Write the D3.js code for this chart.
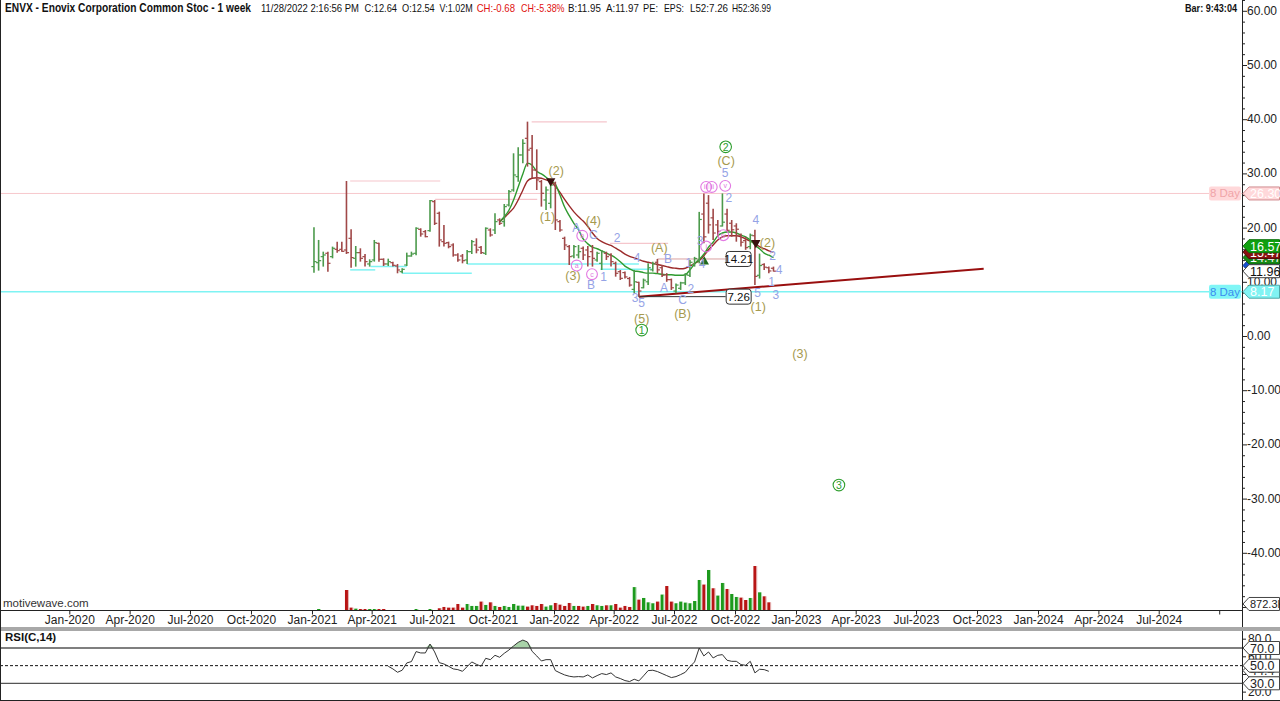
<!DOCTYPE html>
<html><head><meta charset="utf-8">
<script src="https://cdn.jsdelivr.net/npm/d3@7/dist/d3.min.js"></script>
<style>
html,body{margin:0;padding:0;background:#fff;overflow:hidden}
svg{display:block}
text{font-family:"Liberation Sans Narrow","Arial Narrow","Liberation Sans",Arial,sans-serif}
</style></head><body>
<svg id="chart" width="1280" height="701"></svg>
<script>
// ================= DATA =================
const firstWeek = "2021-01-04";   // first weekly bar
const opens = [12.80,13.53,14.64,15.26,14.64,15.99,15.99,15.87,18.02,14.33,
15.38,14.64,13.29,14.03,17.10,14.15,13.29,13.53,12.92,11.87,
13.10,14.76,15.26,19.68,19.25,19.44,24.79,22.64,17.41,17.22,
16.79,14.95,14.76,14.03,15.56,16.79,16.36,15.26,19.56,19.56,
21.41,21.10,24.17,26.94,29.40,33.40,36.47,34.63,30.63,28.48,
25.10,24.48,28.17,21.10,18.02,16.49,14.76,14.95,16.18,15.87,
15.56,14.03,13.41,15.26,14.95,13.41,11.87,11.7,10.6,8.6,
9.9,8.9,10.0,12.2,13.6,12.6,11.3,10.4,8.3,8.8,
9.8,11.2,13.2,14.0,22.5,24.5,21.8,20.5,20.3,22.5,
20.8,20.3,18.6,17.6,16.5,18.5,11.2,13.2,12.6,12.5];
const highs = [20.05,17.72,15.56,15.56,16.49,17.41,17.41,28.60,19.68,16.61,
16.18,15.13,14.15,17.72,17.22,14.33,14.27,13.72,13.29,12.49,
15.38,15.56,20.05,19.87,19.56,25.10,25.10,22.94,20.48,17.41,
17.10,15.26,15.13,15.87,17.72,18.02,16.61,20.05,19.87,22.64,
21.71,24.36,26.94,33.71,34.81,36.29,39.55,37.09,34.44,28.79,
27.56,28.48,28.48,21.41,18.33,16.79,16.79,16.79,16.49,16.61,
16.79,15.56,15.87,15.56,15.26,13.72,12.18,11.9,10.9,12.2,
10.0,10.6,13.4,13.7,14.21,13.1,11.6,10.6,9.7,10.0,
11.6,14.0,14.6,22.9,26.3,26.0,23.5,21.4,26.3,23.5,
21.4,20.8,18.9,18.3,18.9,19.6,15.2,13.4,12.8,12.8];
const lows = [11.69,12.06,12.80,11.87,14.33,15.38,15.56,15.13,12.61,12.80,
13.72,12.80,12.80,13.72,13.72,12.92,12.92,12.80,11.57,11.57,
12.92,14.64,14.89,18.33,18.21,19.25,20.48,16.49,16.49,16.18,
14.64,13.72,13.41,13.29,15.13,15.26,15.13,14.95,18.33,18.82,
20.48,20.18,23.87,26.63,28.48,31.86,31.25,29.09,26.94,23.87,
23.25,23.56,19.56,19.25,15.87,13.10,14.33,14.33,14.03,12.80,
12.80,13.72,12.18,14.03,12.80,10.95,10.33,10.6,9.1,7.9,
7.26,8.8,9.4,11.9,11.6,10.9,10.0,8.5,7.9,8.5,
9.4,10.9,12.8,13.4,17.1,18.9,17.7,18.3,20.2,19.2,
18.3,17.4,16.5,15.9,16.0,9.4,10.6,12.2,11.6,11.9];
const closes = [13.72,13.90,14.95,13.41,16.18,15.75,15.62,15.38,14.46,15.38,
14.33,13.72,13.72,17.22,14.15,13.29,13.72,13.04,12.18,12.30,
14.76,15.13,19.87,18.82,18.33,24.97,20.79,17.72,17.10,16.49,
14.95,14.03,13.90,15.56,17.41,15.87,15.38,19.87,18.64,21.10,
20.79,23.87,26.63,29.71,33.40,35.55,34.32,30.63,28.79,26.33,
26.94,27.86,21.41,19.56,16.79,14.64,16.49,15.56,14.95,14.64,
14.33,15.26,15.56,14.64,13.72,11.57,10.64,10.9,9.4,10.0,
8.3,10.3,12.6,13.3,12.2,11.2,10.4,8.9,9.4,9.8,
11.3,13.6,14.3,21.5,18.3,20.5,19.0,19.3,21.0,19.5,
19.6,19.7,17.3,16.3,18.6,11.0,13.0,12.7,12.0,11.96];
// weekly volume, millions
const volumes = [0,0.18,0,0,0,0,0,2.80,0.37,0.23,
0.18,0.18,0.18,0.18,0.18,0.18,0,0,0,0,
0,0,0.18,0,0,0.18,0,0.28,0.46,0.37,
0.37,0.87,0.37,0.87,0.60,0.60,1.20,0.74,1.10,0.60,
0.46,0.60,0.46,0.87,0.64,0.64,0.51,0.69,0.60,0.87,
0.51,0.69,1.01,0.78,0.60,1.01,0.60,0.60,0.51,0.60,
0.87,0.69,0.60,0.69,0.69,0.87,0.37,0.60,0.46,3.20,
1.47,1.70,1.10,0.97,1.20,2.17,3.35,1.20,0.97,1.20,
1.06,0.97,1.28,4.18,3.55,5.56,3.04,2.03,3.77,2.94,
2.25,1.84,1.75,1.42,1.70,6.11,2.48,1.93,1.10,0];
const volumeDir = ("-g-----rrg"+"rrggrr----"+"--g--g-rrr"+"rrrgggrgrg"+"rgggggrrrr"+
  "ggrrrrgrrg"+"rggrgrrrrg"+"rgggrgrrgg"+"ggggrgrggr"+"ggrrgrgrr-").split("");
const maStart = 41;
const maFast = [21.1,22.0,23.2,25.1,27.5,29.9,31.9,31.5,30.4,29.9,
29.3,28.6,28.0,26.0,23.8,22.2,20.8,19.6,17.9,17.0,
16.4,16.1,15.7,15.3,14.9,14.4,13.7,12.9,12.4,12.0,
11.9,11.7,11.6,11.6,11.5,11.4,11.3,11.3,11.2,11.2,
11.3,12.2,13.3,14.1,15.1,16.4,17.3,18.5,19.0,19.2,
19.2,19.0,18.6,18.3,17.7,16.8,16.1,15.3,14.9,14.47];
const maSlow = [21.1,21.8,22.7,23.6,25.1,26.9,28.6,29.1,29.2,29.1,
28.8,28.5,27.6,26.5,25.2,24.0,22.9,22.0,21.2,20.2,
19.0,18.0,17.4,17.0,16.7,16.2,15.7,15.1,14.7,14.4,
14.1,13.8,13.6,13.4,13.2,13.0,12.8,12.6,12.5,12.4,
12.5,12.9,13.4,13.9,14.8,15.9,16.8,17.7,18.3,18.5,
18.5,18.5,18.3,17.9,17.5,17.1,16.5,16.1,15.7,15.47];
const rsiStart = 17;
const rsiValues = [49.3,46.3,42.5,44.8,53.1,54.6,65.9,64.4,64.4,74.5,
65.5,53.4,51.9,49.3,46.3,45.5,43.6,48.9,54.2,51.5,
49.3,58.3,56.8,61.7,59.5,64.0,67.7,72.3,76.4,79.0,
76.8,66.2,61.0,55.3,56.8,56.8,44.4,41.8,39.5,38.0,
37.2,37.6,37.2,39.5,36.1,38.7,41.0,39.9,41.8,37.2,
35.4,33.1,32.0,34.6,32.7,38.4,44.4,44.8,43.3,41.0,
38.7,36.5,37.6,39.9,42.5,48.9,54.2,70.0,61.0,65.5,
58.7,61.7,62.5,56.1,54.9,54.9,51.2,50.4,54.9,41.8,
45.9,45.5,43.6];
const xTickLabels = ["Jan-2020","Apr-2020","Jul-2020","Oct-2020","Jan-2021","Apr-2021","Jul-2021","Oct-2021",
  "Jan-2022","Apr-2022","Jul-2022","Oct-2022","Jan-2023","Apr-2023","Jul-2023","Oct-2023","Jan-2024","Apr-2024","Jul-2024"];
const xTickUnlabeled = ["Oct-2024"];
const priceTicks = [60,50,40,30,20,10,0,-10,-20,-30,-40];
const rsiTicks = [80,60,20];
const rsiLevels = [70,50,30];
const eightDayHigh = 26.30, eightDayLow = 8.17;
const priceTags = [13.00,14.47,15.47,16.57,11.96];
const volumeTag = 0.8723;
const rsiLast = 44.4;
// trend line [date, price]
const trendLine = [["2022-05-09",7.26],["2023-10-11",12.4]];
// short level lines: [price, fromBar, toBar]
const pinkLevels = [[28.6,8.8,28.2],[25.2,27.1,49.1],[39.5,47.9,64.1],[17.1,64.8,77.3]];
const cyanLevels = [[12.2,8.8,14.2],[12.8,13.2,21],[11.6,20,35],[13.3,34,71],[12.3,62.7,74]];
// price boxes: [value, anchorBar, boxCenterBar]
const priceBoxes = [[14.21,75,92.5],[7.26,71,92.5]];
// wave labels: [text, bar, price, kind]
const waveLabels = [
 ["(2)",53.2,30.4,"o"],["(1)",51.3,22.0,"o"],["(4)",61.2,21.2,"o"],["(3)",56.8,11.1,"o"],
 ["(A)",75.4,16.2,"o"],["(5)",71.6,3.1,"o"],["(B)",80.4,4.0,"o"],["(C)",89.8,32.2,"o"],
 ["(2)",98.7,17.1,"o"],["(1)",96.7,5.4,"o"],["(3)",105.7,-3.3,"o"],
 ["1",71.6,1.1,"g"],["2",89.7,34.9,"g"],["3",114.1,-27.5,"g"],
 ["A",57.5,19.9,"l"],["C",61.2,18.6,"l"],["2",66.3,18.0,"l"],["B",60.7,9.5,"l"],["1",63.4,10.8,"l"],
 ["3",70.2,7.0,"l"],["4",70.6,14.3,"l"],["5",71.6,6.0,"l"],["B",77.3,14.2,"l"],["A",76.4,8.9,"l"],
 ["1",81.7,13.5,"l"],["C",80.4,6.6,"l"],["2",82.2,8.6,"l"],["3",84.2,17.5,"l"],["4",84.6,13.3,"l"],
 ["5",89.6,30.0,"l"],["2",90.4,25.4,"l"],["4",96.2,21.4,"l"],["2",99.8,14.8,"l"],["4",101.2,12.2,"l"],
 ["1",99.6,10.0,"l"],["3",100.5,7.6,"l"],["5",96.6,7.9,"l"],
 ["b",58.8,18.5,"p"],["a",57.6,13.0,"p"],["c",60.9,11.4,"p"],["iii",85.5,27.5,"p"],["iii",86.7,27.5,"p"],
 ["v",89.6,27.7,"p"],["i",85.5,16.5,"p"],["iv",89.2,18.6,"p"]];
const markers = [["down",52,28.6],["down",96.2,17.2],["up",85.1,13.7]];
const headerTitle = "ENVX - Enovix Corporation Common Stoc - 1 week";
const headerFields = ["11/28/2022 2:16:56 PM","C:12.64","O:12.54","V:1.02M","CH:-0.68","CH:-5.38%","B:11.95","A:11.97","PE:","EPS:","L52:7.26","H52:36.99"];
const barClock = "Bar: 9:43:04";

// ================= LAYOUT =================
const W = 1280, H = 701;
const axisX = 1242, mainBottom = 610.5;
const svg = d3.select("#chart");
const parse = d3.utcParse("%Y-%m-%d");
const parseMon = d3.utcParse("%b-%Y");
const x = d3.scaleUtc().domain([Date.UTC(2020,0,1), Date.UTC(2022,0,1)]).range([69.3, 554]);
const y = d3.scaleLinear().domain([-40, 60]).range([552.8, 10.8]);
const yv = d3.scaleLinear().domain([0, 6.11]).range([610.3, 566]);
const yr = d3.scaleLinear().domain([30, 70]).range([683.3, 648]);
const t0 = parse(firstWeek).getTime();
const barDate = n => new Date(t0 + (n-1)*7*864e5);
const bx = n => x(barDate(n));

const bars = opens.map((o,i)=>({n:i+1,o,h:highs[i],l:lows[i],c:closes[i],v:volumes[i],vd:volumeDir[i]}));

svg.append("rect").attr("width",W).attr("height",H).attr("fill","#fff");
const defs = svg.append("defs");
defs.append("clipPath").attr("id","mainClip").append("rect").attr("x",0).attr("y",0).attr("width",axisX).attr("height",mainBottom);
defs.append("clipPath").attr("id","rsiClip").append("rect").attr("x",0).attr("y",631).attr("width",axisX).attr("height",69);

const main = svg.append("g").attr("clip-path","url(#mainClip)");

// 8-day lines
main.append("line").attr("x1",0).attr("x2",axisX).attr("y1",y(eightDayHigh)).attr("y2",y(eightDayHigh)).attr("stroke","#f7c8cc").attr("stroke-width",1);
main.append("line").attr("x1",0).attr("x2",axisX).attr("y1",y(eightDayLow)).attr("y2",y(eightDayLow)).attr("stroke","#7ff3f3").attr("stroke-width",1.5);
// level lines
main.selectAll(".pl").data(pinkLevels).join("line").attr("x1",d=>bx(d[1])).attr("x2",d=>bx(d[2]))
  .attr("y1",d=>y(d[0])).attr("y2",d=>y(d[0])).attr("stroke","#f5c6cc").attr("stroke-width",1.2);
main.selectAll(".cl").data(cyanLevels).join("line").attr("x1",d=>bx(d[1])).attr("x2",d=>bx(d[2]))
  .attr("y1",d=>y(d[0])).attr("y2",d=>y(d[0])).attr("stroke","#7ff3f3").attr("stroke-width",1.5);

// volume
main.selectAll(".vol").data(bars.filter(b=>b.v>0)).join("rect")
  .attr("x",d=>bx(d.n)-1.5).attr("width",3).attr("y",d=>yv(d.v)).attr("height",d=>yv(0)-yv(d.v))
  .attr("fill",d=>d.vd==="g"?"#1d9a1d":"#b81515");
main.selectAll(".volh").data(bars.filter(b=>b.v>0)).join("rect")
  .attr("x",d=>bx(d.n)+1.5).attr("width",0.8).attr("y",d=>yv(d.v)).attr("height",d=>yv(0)-yv(d.v))
  .attr("fill",d=>d.vd==="g"?"#9fd49f":"#e0a0a0");

// trend line
main.append("line").attr("x1",x(parse(trendLine[0][0]))).attr("y1",y(trendLine[0][1]))
  .attr("x2",x(parse(trendLine[1][0]))).attr("y2",y(trendLine[1][1]))
  .attr("stroke","#990f0f").attr("stroke-width",2);

// price boxes connectors
priceBoxes.forEach(([v,a,c])=>{
  const yy = y(v);
  main.append("line").attr("x1",bx(a)).attr("x2",bx(c)-13).attr("y1",yy).attr("y2",yy)
    .attr("stroke", v>10?"#d9a0a0":"#333").attr("stroke-width",1);
  main.append("line").attr("x1",bx(a)).attr("x2",bx(a)).attr("y1",yy).attr("y2",yy+(v>10?4:-3))
    .attr("stroke","#333").attr("stroke-width",1);
});

// moving averages
const maLine = d3.line().x((d,i)=>bx(maStart+i)).y(d=>y(d)).curve(d3.curveMonotoneX);
main.append("path").attr("d",maLine(maSlow)).attr("fill","none").attr("stroke","#9b2a2a").attr("stroke-width",1.4);
main.append("path").attr("d",maLine(maFast)).attr("fill","none").attr("stroke","#2f9a2f").attr("stroke-width",1.4);

// OHLC bars
const up = d => d.c >= d.o;
const colG = "#4c9a4c", colR = "#a04848";
const bg = main.selectAll(".bar").data(bars).join("g");
bg.append("line").attr("x1",d=>bx(d.n)).attr("x2",d=>bx(d.n)).attr("y1",d=>y(d.h)).attr("y2",d=>y(d.l))
  .attr("stroke",d=>up(d)?colG:colR).attr("stroke-width",1.6);
bg.append("line").attr("x1",d=>bx(d.n)-2.6).attr("x2",d=>bx(d.n)).attr("y1",d=>y(d.o)).attr("y2",d=>y(d.o))
  .attr("stroke",d=>up(d)?colG:colR).attr("stroke-width",1.2);
bg.append("line").attr("x1",d=>bx(d.n)).attr("x2",d=>bx(d.n)+2.6).attr("y1",d=>y(d.c)).attr("y2",d=>y(d.c))
  .attr("stroke",d=>up(d)?colG:colR).attr("stroke-width",1.2);

// markers
markers.forEach(([t,n,p])=>{
  const sym = d3.symbol().type(d3.symbolTriangle).size(38)();
  main.append("path").attr("d",sym)
    .attr("transform",`translate(${bx(n)},${y(p)}) rotate(${t==="down"?180:0})`)
    .attr("fill",t==="down"?"#3a1010":"#1f6a1f");
});

// price boxes
priceBoxes.forEach(([v,a,c])=>{
  const cx = bx(c), cy = y(v);
  main.append("rect").attr("x",cx-12.5).attr("y",cy-7.5).attr("width",25).attr("height",15).attr("rx",3)
    .attr("fill","#fff").attr("stroke","#333").attr("stroke-width",1);
  main.append("text").attr("x",cx).attr("y",cy+4).attr("text-anchor","middle").attr("font-size",11.5)
    .attr("fill","#111").text(v.toFixed(2));
});

// wave labels
const colors = {o:"#a69a4e", l:"#95a3e6", g:"#2e9e2e", p:"#e27ae2"};
waveLabels.forEach(([t,n,p,k])=>{
  const cx = bx(n), cy = y(p);
  if (k==="g"){
    main.append("circle").attr("cx",cx).attr("cy",cy).attr("r",5.8).attr("fill","none").attr("stroke",colors.g).attr("stroke-width",1.1);
    main.append("text").attr("x",cx).attr("y",cy+3.8).attr("text-anchor","middle").attr("font-size",10.5).attr("fill",colors.g).text(t);
  } else if (k==="p"){
    main.append("circle").attr("cx",cx).attr("cy",cy).attr("r",5.4).attr("fill","none").attr("stroke",colors.p).attr("stroke-width",1.1);
    main.append("text").attr("x",cx).attr("y",cy+2.5).attr("text-anchor","middle").attr("font-size",7).attr("fill",colors.p).text(t);
  } else {
    main.append("text").attr("x",cx).attr("y",cy+4).attr("text-anchor","middle")
      .attr("font-size",k==="o"?12.5:12).attr("fill",colors[k]).text(t);
  }
});

// motivewave
svg.append("text").attr("x",3).attr("y",607).attr("font-size",11.5).attr("fill","#333").text("motivewave.com");

// 8 Day boxes (in plot, near axis)
[[eightDayHigh,"#ffd8da","#f0a4a8"],[eightDayLow,"#80f6f6","#3a8cf0"]].forEach(([v,bgc,tc])=>{
  const cy = y(v);
  svg.append("rect").attr("x",1209).attr("y",cy-7).attr("width",32).attr("height",14).attr("rx",2).attr("fill",bgc);
  svg.append("text").attr("x",1225).attr("y",cy+4).attr("text-anchor","middle").attr("font-size",11.5).attr("fill",tc).text("8 Day");
});

// ===== price axis =====
svg.append("line").attr("x1",axisX+0.5).attr("x2",axisX+0.5).attr("y1",0).attr("y2",701).attr("stroke","#222");
const minor = d3.range(-50,63,2);
svg.append("g").selectAll("line").data(minor).join("line")
  .attr("x1",axisX).attr("x2",d=>axisX+(d%10===0?5:3)).attr("y1",d=>y(d)+0.5).attr("y2",d=>y(d)+0.5).attr("stroke","#222");
svg.append("g").selectAll("text").data(priceTicks).join("text")
  .attr("x",axisX+5).attr("y",d=>y(d)+4).attr("font-size",12).attr("fill","#222").text(d=>d.toFixed(2));

// price tags
function tag(yy, txt, fill, stroke, tcol, fs){
  svg.append("path").attr("d",`M${axisX+1},${yy} L${axisX+7},${yy-6.5} L1279.5,${yy-6.5} L1279.5,${yy+6.5} L${axisX+7},${yy+6.5} Z`)
    .attr("fill",fill).attr("stroke",stroke).attr("stroke-width",1);
  svg.append("text").attr("x",axisX+8).attr("y",yy+4.5).attr("font-size",fs||12.5).attr("fill",tcol).text(txt);
}
tag(y(eightDayHigh), eightDayHigh.toFixed(2), "#ffd8da","#d08c90","#fff");
tag(y(eightDayLow), eightDayLow.toFixed(2), "#80f3f3","#50a8a8","#fff");
const tagStyles = [["#1550d0","#0a3090","#fff"],["#178a17","#0b5a0b","#fff"],["#8a1010","#500808","#fff"],["#10a010","#0a700a","#fff"],["#ffffff","#444","#111"]];
priceTags.forEach((v,i)=>tag(y(v), v.toFixed(2), ...tagStyles[i]));
tag(yv(volumeTag), (volumeTag*1000).toFixed(1)+"K", "#fff","#444","#222", 11);

// ===== x axis =====
svg.append("line").attr("x1",0).attr("x2",axisX).attr("y1",mainBottom).attr("y2",mainBottom).attr("stroke","#222");
const tickDates = xTickLabels.map(parseMon);
const xAxis = d3.axisBottom(x).tickValues(tickDates).tickFormat((d,i)=>xTickLabels[i]).tickSize(4).tickPadding(1);
const gx = svg.append("g").attr("transform",`translate(0,${mainBottom})`).call(xAxis);
gx.select(".domain").remove();
gx.selectAll("text").attr("font-size",12).attr("fill","#222").attr("font-family",null);
gx.selectAll("line").attr("stroke","#222");
xTickUnlabeled.forEach(s=>{
  const xx = x(parseMon(s));
  svg.append("line").attr("x1",xx).attr("x2",xx).attr("y1",mainBottom).attr("y2",mainBottom+4).attr("stroke","#222");
});

// separator
svg.append("rect").attr("x",0).attr("y",627).attr("width",W).attr("height",4).attr("fill","#a8a8a8");

// ===== RSI =====
const rsiPts = rsiValues.map((v,i)=>({n:rsiStart+i,v}));
const rsiG = svg.append("g").attr("clip-path","url(#rsiClip)");
rsiG.append("path").datum(rsiPts)
  .attr("d",d3.area().x(d=>bx(d.n)).y0(yr(70)).y1(d=>yr(Math.max(70,d.v))))
  .attr("fill","#a9d3a9").attr("stroke","none");
rsiLevels.forEach(l=>{
  rsiG.append("line").attr("x1",0).attr("x2",axisX).attr("y1",yr(l)).attr("y2",yr(l))
    .attr("stroke",l===50?"#111":"#555").attr("stroke-width",l===50?1:1.3).attr("stroke-dasharray",l===50?"3,2":null);
});
rsiG.append("path").datum(rsiPts).attr("d",d3.line().x(d=>bx(d.n)).y(d=>yr(d.v)))
  .attr("fill","none").attr("stroke","#333").attr("stroke-width",1);
svg.append("text").attr("x",5).attr("y",641).attr("font-size",11.5).attr("font-weight","bold").attr("fill","#111").text("RSI(C,14)");
// rsi axis
svg.append("g").selectAll("line").data(d3.range(20,81,10)).join("line")
  .attr("x1",axisX).attr("x2",axisX+4).attr("y1",d=>yr(d)).attr("y2",d=>yr(d)).attr("stroke","#222");
svg.append("g").selectAll("text").data(rsiTicks).join("text").attr("x",axisX+6).attr("y",d=>yr(d)+4)
  .attr("font-size",12).attr("fill","#222").text(d=>d.toFixed(1));
tag(yr(rsiLast), rsiLast.toFixed(1), "#fff","#444","#222");
rsiLevels.forEach(l=>tag(yr(l), l.toFixed(1), "#fff","#444","#222"));

// frame
svg.append("line").attr("x1",0.5).attr("x2",0.5).attr("y1",0).attr("y2",H).attr("stroke","#222");
svg.append("line").attr("x1",0).attr("x2",W).attr("y1",H-0.5).attr("y2",H-0.5).attr("stroke","#222");

// ===== header =====
const hdr = svg.append("g").attr("font-weight","bold");
hdr.append("text").attr("x",5).attr("y",11.5).attr("font-size",12).attr("fill","#111")
  .attr("textLength",246).attr("lengthAdjust","spacingAndGlyphs").text(headerTitle);
const fieldX = [261,364.5,402,439.6,476.7,521,568,606,643,664,690,732];
const fieldW = [98,32.5,32.7,33,38.3,43.5,32.8,32.8,15,20,38,39];
headerFields.forEach((t,i)=>{
  hdr.append("text").attr("x",fieldX[i]).attr("y",11.5).attr("font-size",11).attr("font-weight","normal")
    .attr("fill",t.startsWith("CH")?"#e01010":"#111")
    .attr("textLength",fieldW[i]).attr("lengthAdjust","spacingAndGlyphs").text(t);
});
svg.append("text").attr("x",1185).attr("y",11.5).attr("font-size",11).attr("font-weight","bold").attr("fill","#111")
  .attr("textLength",52).attr("lengthAdjust","spacingAndGlyphs").text(barClock);
</script>
</body></html>
